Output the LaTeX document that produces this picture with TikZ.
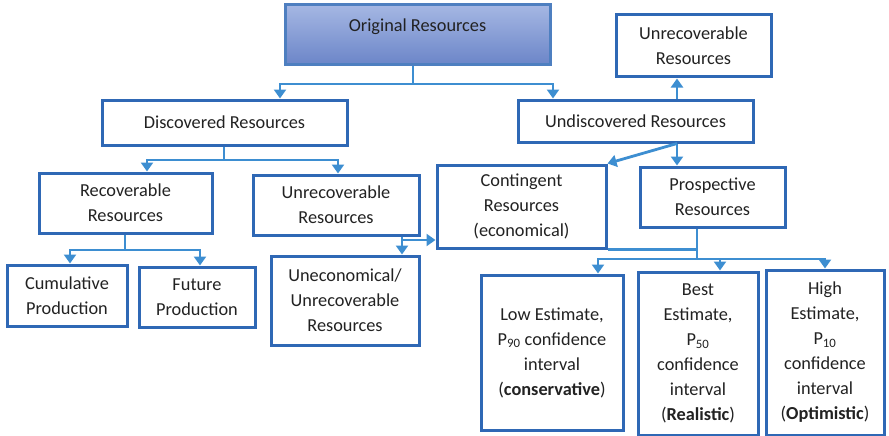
\documentclass[tikz,border=0pt]{standalone}
\usepackage{fontspec}
\setmainfont{Carlito}
\usetikzlibrary{arrows.meta}
\definecolor{boxblue}{HTML}{2F68B5}
\definecolor{connblue}{HTML}{3D8ED1}
\definecolor{topfill}{HTML}{A5B7E3}
\definecolor{botfill}{HTML}{6B85C8}
\definecolor{txtgray}{HTML}{222222}
\tikzset{
  box/.style={draw=boxblue, line width=3pt, fill=white, inner sep=0pt,
    align=center, text=txtgray, font=\fontsize{18.3}{25}\selectfont},
  rootbox/.style={box, draw=boxblue!85!white, top color=topfill, bottom color=botfill},
  label text/.style={text=txtgray, font=\fontsize{18.3}{25}\selectfont},
  conn/.style={draw=connblue, line width=2.8pt},
  arr/.style={conn, -{Triangle[width=12pt,length=9pt]}},
}
\begin{document}
\begin{tikzpicture}[x=1pt, y=-1pt]
\useasboundingbox (0,0) rectangle (889,436);

% boxes
\node[rootbox, minimum width=265pt, minimum height=60pt] (orig) at (417.5,35) {};
\node[label text] (origtext) at ([yshift=8pt]orig.center) {Original Resources};

\node[box, minimum width=245pt, minimum height=45pt] (disc) at (224.5,122.5) {Discovered Resources};
\node[box, minimum width=235pt, minimum height=42pt] (undisc) at (635.5,121) {Undiscovered Resources};
\node[box, minimum width=155pt, minimum height=62pt] (unrT) at (693.5,46) {Unrecoverable\\Resources};

\node[box, minimum width=173pt, minimum height=60pt] (recov) at (125.5,203) {Recoverable\\Resources};
\node[box, minimum width=166pt, minimum height=60pt] (unrL) at (336,205) {Unrecoverable\\Resources};
\node[box, minimum width=169pt, minimum height=83pt] (cont) at (521.5,206.5) {Contingent\\Resources\\(economical)};
\node[box, minimum width=145pt, minimum height=60pt] (prosp) at (712.5,197) {Prospective\\Resources};

\node[box, minimum width=120pt, minimum height=61pt] (cum) at (67,295.5) {Cumulative\\Production};
\node[box, minimum width=116pt, minimum height=60pt] (fut) at (197,297) {Future\\Production};
\node[box, minimum width=148pt, minimum height=89pt] (unecon) at (345,300.5) {Uneconomical/\\Unrecoverable\\Resources};

\node[box, minimum width=142pt, minimum height=155pt] (low) at (552,352.5)
  {Low Estimate,\\P\textsubscript{90} confidence\\interval\\(\textbf{conservative})};
\node[box, minimum width=120pt, minimum height=163pt] (best) at (698,353.5)
  {Best\\Estimate,\\P\textsubscript{50}\\confidence\\interval\\(\textbf{Realistic})};
\node[box, minimum width=118pt, minimum height=165pt] (high) at (825,352.5)
  {High\\Estimate,\\P\textsubscript{10}\\confidence\\interval\\(\textbf{Optimistic})};

% connector columns and junctions
\coordinate (j1) at (413,84);
\coordinate (c1) at (280,0);
\coordinate (c2) at (553,0);
\coordinate (u1) at (677,0);
\coordinate (j2) at (224,160);
\coordinate (c3) at (147,0);
\coordinate (c4) at (338,0);
\coordinate (j3) at (125,250);
\coordinate (c5) at (70,0);
\coordinate (c6) at (200,0);
\coordinate (k1) at (402,240);
\coordinate (j4) at (697,259);
\coordinate (c7) at (598,0);
\coordinate (c8) at (720,0);
\coordinate (c9) at (825,0);

% original -> discovered / undiscovered
\draw[conn] (orig.south -| j1) -- (j1);
\draw[arr] (j1) -| (disc.north -| c1);
\draw[arr] (j1) -| (undisc.north -| c2);

% undiscovered -> unrecoverable, prospective, contingent
\draw[arr] (undisc.north -| u1) -- (unrT.south -| u1);
\draw[arr] (undisc.south -| u1) -- (prosp.north -| u1);
\draw[arr] (undisc.south -| u1) -- (cont.north east);

% discovered -> recoverable / unrecoverable
\draw[conn] (disc.south -| j2) -- (j2);
\draw[arr] (j2) -| (recov.north -| c3);
\draw[arr] (j2) -| (unrL.north -| c4);

% recoverable -> cumulative / future production
\draw[conn] (recov.south -| j3) -- (j3);
\draw[arr] (j3) -| (cum.north -| c5);
\draw[arr] (j3) -| (fut.north -| c6);

% unrecoverable -> uneconomical, contingent
\draw[arr] (unrL.south -| k1) -- (unecon.north -| k1);
\draw[arr] (k1) -- (cont.west |- k1);

% prospective (and contingent) -> estimates
\draw[conn] (prosp.south -| j4) -- (j4);
\draw[conn] (cont.south east) -- (cont.south east -| j4);
\draw[arr] (j4) -| (low.north -| c7);
\draw[arr] (j4) -| (best.north -| c8);
\draw[arr] (j4) -| (high.north -| c9);
\end{tikzpicture}
\end{document}
